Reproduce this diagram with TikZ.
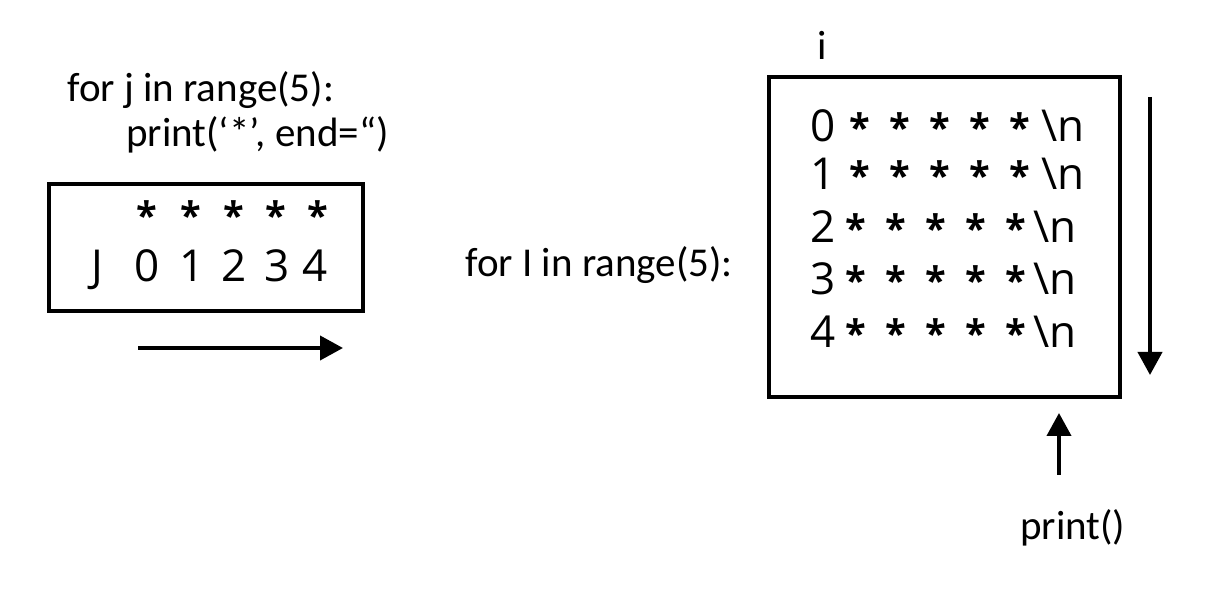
\documentclass[tikz,border=0pt]{standalone}
\usepackage{fontspec}
\usetikzlibrary{arrows.meta}
\newfontfamily\codefont{Carlito}
\newfontfamily\cellfont{Open Sans}

\def\codesize{\fontsize{20.5}{24}\selectfont}
\def\cellsize{\fontsize{22}{26}\selectfont}

\tikzset{
  code/.style={anchor=base west, inner sep=0pt, font=\codefont\codesize},
  cell/.style={anchor=base, inner sep=0pt, font=\cellfont\cellsize},
  star/.style={cell, font=\cellfont\fontsize{19}{22}\selectfont\bfseries},
  frame/.style={line width=2pt},
  flow/.style={line width=2pt, -{Triangle[length=11.5pt,width=12pt]}}
}

\begin{document}
\begin{tikzpicture}[x=0.5pt, y=-0.5pt]
    \useasboundingbox (0,0) rectangle (1212,592);

    % inner loop
    \node[code] (forj) at (67,102) {for j in range(5):};
    \node[code] (printstar) at (126,147) {print(‘*’, end=“)};
    \draw[frame] (49,184) rectangle (363,311);
    \node[cell] (jlabel) at (97,282) {J};
    \foreach \k/\xd/\xs in {0/147/147,1/192/191,2/234/234,3/277/276,4/315/318} {
      \node[cell] (j\k) at (\xd,282) {\k};
      \node[star] (s\k) at (\xs,230) {*};
    }
    \coordinate (jstart) at (138,348);
    \coordinate (jend) at (343,348);
    \draw[flow] (jstart) -- (jend);

    % outer loop
    \node[code] (fori) at (465,277) {for I in range(5):};
    \node[code] (ilabel) at (817,60) {i};
    \draw[frame] (769,77) rectangle (1120,397);
    \foreach \r/\yb/\dx in {0/142/0,1/190/0,2/243/-4,3/295/-4,4/348/-4} {
      \node[cell] (i\r) at (823,\yb) {\r};
      \foreach \c/\xs in {1/860,2/900,3/940,4/980,5/1020}
        \node[star] (r\r c\c) at (\xs+\dx,\yb) {*};
      \node[cell] (nl\r) at (1063+2*\dx,\yb) {\textbackslash n};
    }
    \coordinate (itop) at (1150,97);
    \coordinate (ibot) at (1150,375);
    \draw[flow] (itop) -- (ibot);

    \node[code] (newline) at (1020,540) {print()};
    \coordinate (pfrom) at (1059,475);
    \coordinate (pto) at (1059,413);
    \draw[flow] (pfrom) -- (pto);
\end{tikzpicture}
\end{document}
